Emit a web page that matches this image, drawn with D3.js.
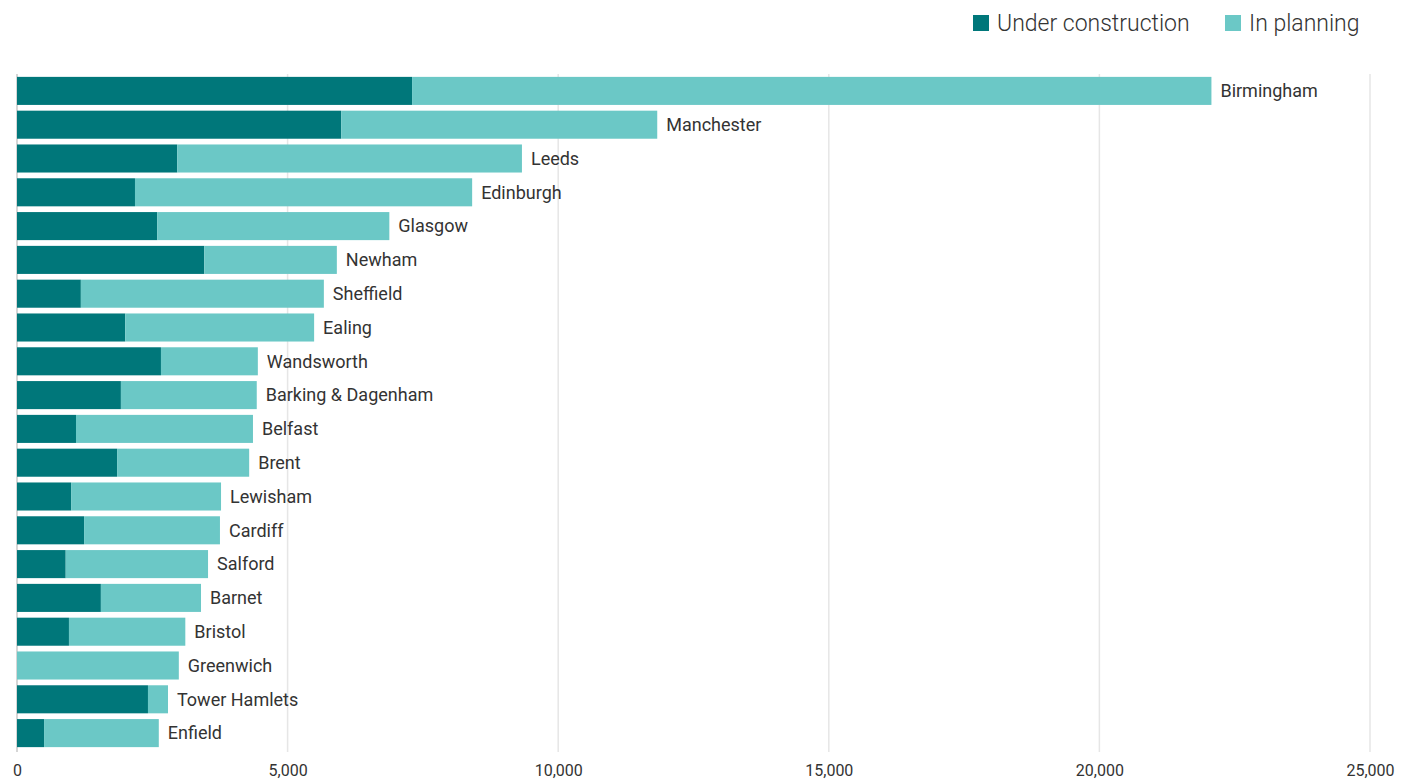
<!DOCTYPE html>
<html>
<head>
<meta charset="utf-8">
<script src="https://cdn.jsdelivr.net/npm/d3@7"></script>
<style>
  body { margin: 0; background: #fff; }
  text { font-family: Roboto, "Open Sans", sans-serif; fill: #333; }
</style>
</head>
<body>
<svg width="1401" height="781"></svg>
<script>
var cities = ["Birmingham", "Manchester", "Leeds", "Edinburgh", "Glasgow", "Newham", "Sheffield",
  "Ealing", "Wandsworth", "Barking & Dagenham", "Belfast", "Brent", "Lewisham", "Cardiff",
  "Salford", "Barnet", "Bristol", "Greenwich", "Tower Hamlets", "Enfield"];

var underConstruction = [7300, 5990, 2960, 2180, 2590, 3460, 1180, 2000, 2660, 1920,
  1090, 1850, 1000, 1240, 900, 1550, 960, 0, 2420, 500];

var inPlanning = [14770, 5840, 6370, 6230, 4290, 2450, 4490, 3490, 1790, 2510,
  3270, 2440, 2770, 2510, 2630, 1850, 2150, 2990, 370, 2120];

var seriesNames = ["Under construction", "In planning"];
var seriesColors = ["#00777a", "#6bc8c6"];
var xTicks = [0, 5000, 10000, 15000, 20000, 25000];

var svg = d3.select("svg"),
    margin = {top: 74, right: 31, bottom: 31, left: 17},
    width = +svg.attr("width") - margin.left - margin.right,
    height = +svg.attr("height") - margin.top - margin.bottom,
    g = svg.append("g").attr("transform", "translate(" + margin.left + "," + margin.top + ")");

var data = cities.map(function(c, i) {
  return {city: c, "Under construction": underConstruction[i], "In planning": inPlanning[i]};
});

var x = d3.scaleLinear().domain([0, 25000]).range([0, width]);

var y = d3.scaleBand()
    .domain(cities)
    .range([0, height])
    .paddingInner(0.17)
    .paddingOuter(0.085);

var z = d3.scaleOrdinal().domain(seriesNames).range(seriesColors);

// gridlines
g.append("g")
  .selectAll("line")
  .data(xTicks)
  .enter().append("line")
    .attr("x1", function(d) { return x(d); })
    .attr("x2", function(d) { return x(d); })
    .attr("y1", 0)
    .attr("y2", height + 2)
    .attr("stroke", function(d) { return d === 0 ? "#d6d6d6" : "#e6e6e6"; })
    .attr("stroke-width", function(d) { return d === 0 ? 2 : 1.5; });

g.append("g")
  .selectAll("g")
  .data(d3.stack().keys(seriesNames)(data))
  .enter().append("g")
    .attr("fill", function(d) { return z(d.key); })
  .selectAll("rect")
  .data(function(d) { return d; })
  .enter().append("rect")
    .attr("y", function(d) { return y(d.data.city); })
    .attr("x", function(d) { return x(d[0]); })
    .attr("width", function(d) { return x(d[1]) - x(d[0]); })
    .attr("height", y.bandwidth());

// city labels at bar ends
g.append("g")
  .selectAll("text")
  .data(data)
  .enter().append("text")
    .attr("x", function(d) { return x(d["Under construction"] + d["In planning"]) + 9; })
    .attr("y", function(d) { return y(d.city) + y.bandwidth() / 2; })
    .attr("dy", "0.35em")
    .style("font-size", "18px")
    .text(function(d) { return d.city; });

// x axis
var xAxis = g.append("g")
    .attr("transform", "translate(0," + height + ")")
    .call(d3.axisBottom(x).tickValues(xTicks).tickSize(0).tickPadding(15).tickFormat(d3.format(",")));
xAxis.select(".domain").remove();
xAxis.selectAll("text")
    .attr("fill", "#333")
    .style("font-size", "16px");

// legend
var legend = svg.append("g")
  .selectAll("g")
  .data(seriesNames)
  .enter().append("g")
    .attr("transform", function(d, i) { return "translate(" + (i === 0 ? 973 : 1225) + ",15)"; });

legend.append("rect")
    .attr("width", 16)
    .attr("height", 16)
    .attr("fill", z);

legend.append("text")
    .attr("x", 24)
    .attr("y", 8)
    .attr("dy", "0.35em")
    .style("font-size", "23px")
    .style("font-weight", 300)
    .text(function(d) { return d; });
</script>
</body>
</html>
